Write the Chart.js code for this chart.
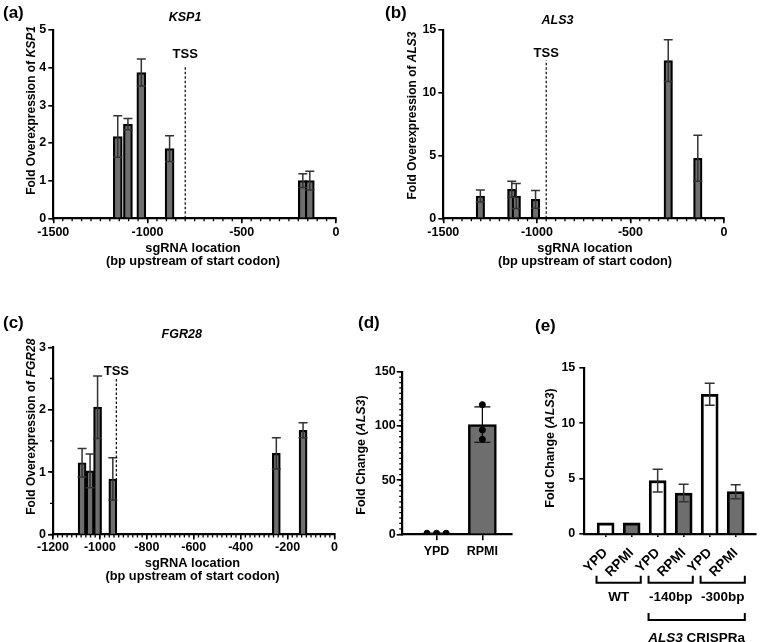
<!DOCTYPE html>
<html>
<head>
<meta charset="utf-8">
<script src="https://cdn.jsdelivr.net/npm/chart.js@4.4.1/dist/chart.umd.min.js"></script>
<style>
  body { margin: 0; background: #fff; }
  #fig { position: relative; width: 760px; height: 642px; overflow: hidden; background: #fff; }
  #fig canvas { position: absolute; }
  .tag { position: absolute; font: bold 17px "Liberation Sans", Arial, sans-serif; line-height: 17px; color: #000; }
</style>
</head>
<body>
<div id="fig">
  <canvas id="cA" width="380" height="300" style="left:0;top:0"></canvas>
  <canvas id="cB" width="380" height="300" style="left:380px;top:0"></canvas>
  <canvas id="cC" width="355" height="342" style="left:0;top:300px"></canvas>
  <canvas id="cD" width="165" height="342" style="left:355px;top:300px"></canvas>
  <canvas id="cE" width="240" height="342" style="left:520px;top:300px"></canvas>
  <div class="tag" style="left:3px;top:4px">(a)</div>
  <div class="tag" style="left:385px;top:4px">(b)</div>
  <div class="tag" style="left:3px;top:314px">(c)</div>
  <div class="tag" style="left:358px;top:314px">(d)</div>
  <div class="tag" style="left:535px;top:317px">(e)</div>
</div>
<script>
// ---- data ----
// (a) KSP1: sgRNA position (bp upstream of ATG), mean fold, SD
const ksp1Loc = [-1158, -1104, -1033, -883, -176, -139];
const ksp1Fold = [2.17, 2.50, 3.87, 1.85, 1.00, 1.00];
const ksp1Sd = [0.55, 0.15, 0.36, 0.34, 0.18, 0.25];
const ksp1Tss = -800;

// (b) ALS3
const als3Loc = [-1302, -1134, -1110, -1007, -298, -140];
const als3Fold = [1.78, 2.31, 1.78, 1.51, 12.56, 4.78];
const als3Sd = [0.48, 0.64, 1.00, 0.70, 1.67, 1.83];
const als3Tss = -950;

// (c) FGR28
const fgrLoc = [-1076, -1042, -1010, -945, -248, -134];
const fgrFold = [1.15, 1.02, 2.04, 0.89, 1.30, 1.67];
const fgrSd = [0.23, 0.27, 0.50, 0.34, 0.25, 0.12];
const fgrTss = -930;

// (d) ALS3 in YPD vs RPMI
const mediaCats = ["YPD", "RPMI"];
const mediaFold = [1.0, 101.2];
const mediaSd = [0.05, 16.3];
const ypdReps = [1.0, 1.0, 1.0];
const rpmiReps = [119.6, 96.2, 87.6];
const ypdJitter = [-0.21, 0, 0.21];

// (e) ALS3 CRISPRa strains
const strainCats = ["YPD", "RPMI", "YPD", "RPMI", "YPD", "RPMI"];
const strainFold = [1.0, 1.0, 4.81, 3.70, 12.60, 3.82];
const strainSd = [0, 0, 1.03, 0.78, 0.99, 0.63];
const strainGroups = ["WT", "-140bp", "-300bp"];

const FONT = '"Liberation Sans", Arial, sans-serif';
const GREY = "#6e6e6e";
Chart.defaults.font.family = FONT;
Chart.defaults.font.weight = "bold";
Chart.defaults.color = "#000";

// text with *italic* parts
function drawRich(ctx, str, x, y, size, rot) {
  const parts = str.split("*");
  ctx.save();
  ctx.translate(x, y);
  ctx.rotate(rot || 0);
  ctx.fillStyle = "#000";
  ctx.textBaseline = "middle";
  ctx.textAlign = "left";
  const fonts = parts.map((p, k) => (k % 2 ? "italic " : "") + "bold " + size + "px " + FONT);
  let total = 0;
  parts.forEach((p, k) => { ctx.font = fonts[k]; total += ctx.measureText(p).width; });
  let cx = -total / 2;
  parts.forEach((p, k) => { ctx.font = fonts[k]; ctx.fillText(p, cx, 0); cx += ctx.measureText(p).width; });
  ctx.restore();
}

const errorBars = {
  id: "errorBars",
  afterDatasetsDraw(chart, args, opts) {
    if (!opts.sd) return;
    const meta = chart.getDatasetMeta(0);
    const y = chart.scales.y;
    const ctx = chart.ctx;
    ctx.save();
    ctx.strokeStyle = opts.color;
    ctx.lineWidth = opts.width;
    meta.data.forEach((bar, i) => {
      const sd = opts.sd[i];
      if (!sd) return;
      const v = chart.data.datasets[0].data[i].y;
      const hi = y.getPixelForValue(v + sd);
      const lo = y.getPixelForValue(v - sd);
      const c = opts.cap;
      ctx.beginPath();
      ctx.moveTo(bar.x, hi); ctx.lineTo(bar.x, lo);
      ctx.moveTo(bar.x - c, hi); ctx.lineTo(bar.x + c, hi);
      ctx.moveTo(bar.x - c, lo); ctx.lineTo(bar.x + c, lo);
      ctx.stroke();
    });
    ctx.restore();
  }
};

const minorTicks = {
  id: "minorTicks",
  afterDraw(chart, args, opts) {
    const ctx = chart.ctx;
    ctx.save();
    ctx.strokeStyle = "#000";
    ctx.lineWidth = 1.3;
    ["x", "y"].forEach(k => {
      const step = opts[k];
      if (!step) return;
      const s = chart.scales[k];
      const n = Math.round((s.max - s.min) / step);
      ctx.beginPath();
      for (let i = 0; i <= n; i++) {
        const p = s.getPixelForValue(s.min + i * step);
        if (k === "x") { ctx.moveTo(p, s.top); ctx.lineTo(p, s.top + opts.len); }
        else { ctx.moveTo(s.right, p); ctx.lineTo(s.right - opts.len, p); }
      }
      ctx.stroke();
    });
    ctx.restore();
  }
};

const tssMark = {
  id: "tssMark",
  afterDatasetsDraw(chart, args, opts) {
    if (opts.x === undefined) return;
    const { x, y } = chart.scales;
    const ctx = chart.ctx;
    const px = x.getPixelForValue(opts.x);
    ctx.save();
    ctx.strokeStyle = "#000";
    ctx.lineWidth = 1.2;
    ctx.setLineDash([2.5, 2]);
    ctx.beginPath();
    ctx.moveTo(px, y.getPixelForValue(0));
    ctx.lineTo(px, y.getPixelForValue(opts.top));
    ctx.stroke();
    ctx.restore();
    drawRich(ctx, "TSS", px, y.getPixelForValue(opts.labelAt), 13, 0);
  }
};

const texts = {
  id: "texts",
  afterDraw(chart, args, opts) {
    (opts.items || []).forEach(it => drawRich(chart.ctx, it.s, it.x, it.y, it.size || 12.5, it.rot || 0));
  }
};

const groupBrackets = {
  id: "groupBrackets",
  afterDraw(chart, args, opts) {
    if (!opts.rows) return;
    const x = chart.scales.x;
    const ctx = chart.ctx;
    opts.rows.forEach(row => {
      row.groups.forEach(g => {
        const x0 = x.getPixelForValue(g.from - opts.pad);
        const x1 = x.getPixelForValue(g.to + opts.pad);
        ctx.save();
        ctx.strokeStyle = "#000";
        ctx.lineWidth = 2;
        ctx.beginPath();
        ctx.moveTo(x0, row.y - 7); ctx.lineTo(x0, row.y); ctx.lineTo(x1, row.y); ctx.lineTo(x1, row.y - 7);
        ctx.stroke();
        ctx.restore();
        drawRich(ctx, g.label, (x0 + x1) / 2, row.labelY, 13.5, 0);
      });
    });
  }
};

Chart.register(errorBars, minorTicks, tssMark, texts, groupBrackets);

// chart area [left, top, right, bottom] in canvas pixels -> layout padding
function pad(cw, ch, area, yW, xH) {
  return { left: area[0] - yW, top: area[1], right: cw - area[2], bottom: ch - area[3] - xH };
}

function axis(dir, min, max, step, size, tickPad, tickLen) {
  return {
    type: "linear", min, max, offset: false, bounds: "data",
    border: { color: "#000", width: 2.2 },
    grid: { drawOnChartArea: false, offset: false, color: "#000", lineWidth: 1.6, tickLength: tickLen || 5 },
    ticks: { stepSize: step, padding: tickPad, color: "#000", font: { size: 12.5, weight: "bold" },
             maxRotation: 0, autoSkip: false, callback: v => String(v) },
    afterFit(s) {
      if (dir === "x") { s.height = size; s.paddingLeft = 0; s.paddingRight = 0; }
      else { s.width = size; s.paddingTop = 0; s.paddingBottom = 0; }
    }
  };
}

function locationChart(id, cw, ch, area, loc, fold, sd, tss, xr, yr, barW, items) {
  const yW = 45, xH = 40;
  return new Chart(document.getElementById(id), {
    type: "bar",
    data: {
      datasets: [{
        data: loc.map((x, i) => ({ x, y: fold[i] })),
        backgroundColor: GREY, borderColor: "#000", borderWidth: 2.2, barThickness: barW
      }]
    },
    options: {
      responsive: false, animation: false,
      layout: { padding: pad(cw, ch, area, yW, xH) },
      scales: {
        x: axis("x", xr[0], xr[1], xr[2], xH, xr[4], 5),
        y: axis("y", yr[0], yr[1], yr[2], yW, 2, 5)
      },
      plugins: {
        legend: { display: false }, tooltip: { enabled: false },
        errorBars: { sd, cap: 4.5, color: "#333", width: 1.5 },
        minorTicks: { x: xr[3], y: yr[3], len: 3 },
        tssMark: tss,
        texts: { items }
      }
    }
  });
}

// (a)
locationChart("cA", 380, 300, [53.3, 30, 336, 218.3], ksp1Loc, ksp1Fold, ksp1Sd,
  { x: ksp1Tss, top: 4.03, labelAt: 4.36 },
  [-1500, 0, 500, 50, 1.5], [0, 5, 1, 0], 9, [
    { s: "*KSP1*", x: 185, y: 17.3, size: 12.5 },
    { s: "Fold Overexpression of *KSP1*", x: 31.7, y: 110.5, rot: -Math.PI / 2, size: 12 },
    { s: "sgRNA location", x: 193, y: 248.3, size: 12.8 },
    { s: "(bp upstream of start codon)", x: 193, y: 261.3, size: 12.8 }
  ]);

// (b)
locationChart("cB", 380, 300, [63.3, 30, 344, 218.3], als3Loc, als3Fold, als3Sd,
  { x: als3Tss, top: 12.6, labelAt: 13.13 },
  [-1500, 0, 500, 50, 1.5], [0, 15, 5, 0], 8.5, [
    { s: "*ALS3*", x: 177.5, y: 20.5, size: 12.5 },
    { s: "Fold Overexpression of *ALS3*", x: 33, y: 115.5, rot: -Math.PI / 2, size: 12 },
    { s: "sgRNA location", x: 205, y: 248.3, size: 12.8 },
    { s: "(bp upstream of start codon)", x: 205, y: 261.3, size: 12.8 }
  ]);

// (c)
locationChart("cC", 355, 342, [53, 47.3, 334.5, 234.5], fgrLoc, fgrFold, fgrSd,
  { x: fgrTss, top: 2.49, labelAt: 2.62 },
  [-1200, 0, 200, 20, 1], [0, 3, 1, 0.5], 8, [
    { s: "*FGR28*", x: 181.7, y: 35, size: 12.5 },
    { s: "Fold Overexpression of *FGR28*", x: 31.7, y: 126.7, rot: -Math.PI / 2, size: 12 },
    { s: "sgRNA location", x: 192.5, y: 263.3, size: 12.8 },
    { s: "(bp upstream of start codon)", x: 192.5, y: 276.5, size: 12.8 }
  ]);

// (d)
(function () {
  const cw = 165, ch = 342, area = [46.7, 71.7, 156.7, 234.3], yW = 35, xH = 40;
  const dots = ypdReps.map((v, i) => ({ x: 0 + ypdJitter[i], y: v }))
    .concat(rpmiReps.map(v => ({ x: 1, y: v })));
  const x = axis("x", -0.76, 1.64, 1, xH, 4, 6);
  x.afterBuildTicks = s => { s.ticks = mediaCats.map((c, i) => ({ value: i })); };
  x.ticks.callback = v => mediaCats[v];
  new Chart(document.getElementById("cD"), {
    type: "bar",
    data: {
      datasets: [
        { data: mediaCats.map((c, i) => ({ x: i, y: mediaFold[i] })),
          backgroundColor: ["#fff", GREY], borderColor: "#000", borderWidth: 2.5, barThickness: 28 },
        { type: "scatter", order: -1, data: dots, pointRadius: 3,
          backgroundColor: "#000", borderColor: "#000" }
      ]
    },
    options: {
      responsive: false, animation: false,
      layout: { padding: pad(cw, ch, area, yW, xH) },
      scales: { x, y: axis("y", 0, 150, 50, yW, 1, 5) },
      plugins: {
        legend: { display: false }, tooltip: { enabled: false },
        errorBars: { sd: mediaSd, cap: 8, color: "#000", width: 1.2 },
        minorTicks: { y: 5, len: 2.5 },
        texts: { items: [{ s: "Fold Change (*ALS3*)", x: 7, y: 155, rot: -Math.PI / 2 }] }
      }
    }
  });
})();

// (e)
(function () {
  const cw = 240, ch = 342, area = [64.3, 67.7, 236, 234], yW = 40, xH = 50;
  const x = axis("x", -0.82, 5.78, 1, xH, 8, 3);
  x.afterBuildTicks = s => { s.ticks = strainCats.map((c, i) => ({ value: i })); };
  x.ticks.callback = v => strainCats[v];
  x.ticks.minRotation = 45;
  x.ticks.maxRotation = 45;
  x.ticks.font = { size: 13.5, weight: "bold" };
  new Chart(document.getElementById("cE"), {
    type: "bar",
    data: {
      datasets: [{
        data: strainCats.map((c, i) => ({ x: i, y: strainFold[i] })),
        backgroundColor: strainCats.map(c => (c === "YPD" ? "#fff" : GREY)),
        borderColor: "#000", borderWidth: 2.8, barThickness: 17
      }]
    },
    options: {
      responsive: false, animation: false,
      layout: { padding: pad(cw, ch, area, yW, xH) },
      scales: { x, y: axis("y", 0, 15, 5, yW, 4, 5) },
      plugins: {
        legend: { display: false }, tooltip: { enabled: false },
        errorBars: { sd: strainSd, cap: 5, color: "#333", width: 1.5 },
        texts: { items: [{ s: "Fold Change (*ALS3*)", x: 31, y: 148, rot: -Math.PI / 2 }] },
        groupBrackets: {
          pad: 0.35,
          rows: [
            { y: 282.7, labelY: 297, groups: strainGroups.map((g, i) => ({ label: g, from: i * 2, to: i * 2 + 1 })) },
            { y: 320, labelY: 338, groups: [{ label: "*ALS3* CRISPRa", from: 2, to: 5 }] }
          ]
        }
      }
    }
  });
})();
</script>
</body>
</html>
